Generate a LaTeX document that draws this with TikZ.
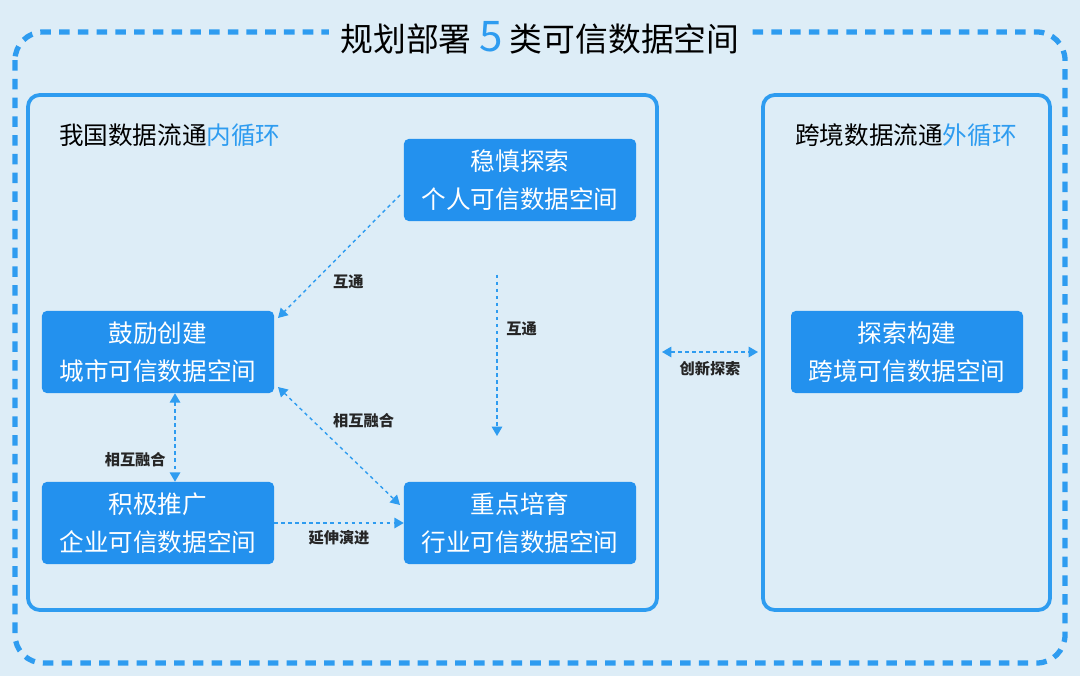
\documentclass[tikz,border=0pt]{standalone}
\usepackage{fontspec}
\setmainfont{Noto Sans CJK SC}
\usetikzlibrary{positioning,arrows.meta}
\definecolor{bgblue}{HTML}{DDEDF7}
\definecolor{lineblue}{HTML}{2E9CF0}
\definecolor{boxblue}{HTML}{2391EE}
\tikzset{
  spacebox/.style={fill=boxblue, rounded corners=4pt, text=white, align=center,
    minimum width=6.96cm, minimum height=2.46cm, font=\fontsize{21}{32}\selectfont},
  linkarrow/.style={draw=lineblue, dashed, line width=1.2pt, -{Triangle[length=8pt,width=9pt]}},
  linklabel/.style={font=\fontsize{13}{15}\selectfont\bfseries, text=black!85}
}
\begin{document}
\begin{tikzpicture}[x=0.03cm, y=-0.03cm]
  \useasboundingbox (0,0) rectangle (1080,676);
  \fill[bgblue] (0,0) rectangle (1080,676);
  % outer frame
  \draw[lineblue, line width=4.5pt, dash pattern=on 9pt off 7pt, rounded corners=24pt] (15,32) rectangle (1065,663);
  \node[fill=bgblue, inner xsep=10pt, font=\fontsize{28}{32}\selectfont] (title) at (540,38)
    {规划部署 {\color{lineblue}\fontsize{36}{38}\selectfont 5} 类可信数据空间};
  % two loops
  \draw[lineblue, line width=3.2pt, rounded corners=10pt] (28,95) rectangle (657,610);
  \draw[lineblue, line width=3.2pt, rounded corners=10pt] (763,95) rectangle (1050,610);
  \node[font=\fontsize{21}{24}\selectfont, anchor=west] (inner) at (55,135) {我国数据流通{\color{lineblue}内循环}};
  \node[font=\fontsize{21}{24}\selectfont] (outer) at (906,135) {跨境数据流通{\color{lineblue}外循环}};
  \coordinate (leftedge) at (662,352);
  \coordinate (rightedge) at (758,352);
  % spaces
  \node[spacebox] (personal) at (520,180) {稳慎探索\\个人可信数据空间};
  \node[spacebox] (city) at (158,352) {鼓励创建\\城市可信数据空间};
  \node[spacebox] (enterprise) at (158,523) {积极推广\\企业可信数据空间};
  \node[spacebox] (industry) at (520,523) {重点培育\\行业可信数据空间};
  \node[spacebox] (crossborder) at (907,352) {探索构建\\跨境可信数据空间};
  % links
  \draw[linkarrow] (400,195) -- node[linklabel, pos=0.6, below right=2pt] {互通} (278,318);
  \draw[linkarrow, shorten <=45pt] (497,222) -- node[linklabel, right=4pt] {互通} (497,436);
  \draw[linkarrow, {Triangle[length=8pt,width=9pt]}-{Triangle[length=8pt,width=9pt]}] (278,387) -- node[linklabel, pos=0.4, above right=2pt] {相互融合} (400,505);
  \draw[linkarrow, {Triangle[length=8pt,width=9pt]}-{Triangle[length=8pt,width=9pt]}] (city.south -| 175,0) -- node[linklabel, left=4pt, pos=0.75] {相互融合} (enterprise.north -| 175,0);
  \draw[linkarrow] (enterprise.east) -- node[linklabel, below=2pt] {延伸演进} (industry.west);
  \draw[linkarrow, {Triangle[length=8pt,width=9pt]}-{Triangle[length=8pt,width=9pt]}] (leftedge) -- node[linklabel, below=4pt] {创新探索} (rightedge);
\end{tikzpicture}
\end{document}
